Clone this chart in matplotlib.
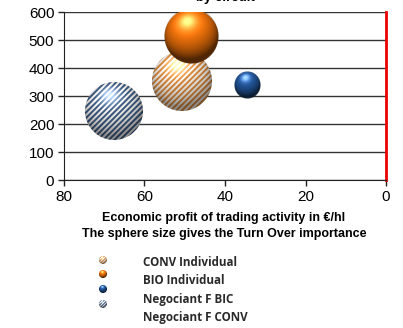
import numpy as np
import matplotlib
matplotlib.use("Agg")
import matplotlib.pyplot as plt

# Series: economic profit (€/hl), a second metric (y), turnover weight (bubble area)
series = ["CONV Individual", "BIO Individual", "Negociant F BIC", "Negociant F CONV"]
profit = [50.8, 48.3, 34.5, 67.5]
y_values = [352, 511, 336, 246]
turnover = [900, 730, 170, 840]
hatched = [True, False, False, True]
base_colors = ["#d9893c", "#e36c0a", "#1f4f8f", "#3f5c84"]

x_ticks = [80, 60, 40, 20, 0]
y_ticks = [0, 100, 200, 300, 400, 500, 600]

W, H = 403, 328
fig = plt.figure(figsize=(W / 100, H / 100), dpi=100)
ax = fig.add_axes([64 / W, 1 - 180 / H, (386 - 64) / W, (180 - 12) / H])


def hex_rgb(c):
    c = c.lstrip("#")
    return np.array([int(c[i:i + 2], 16) / 255 for i in (0, 2, 4)])


def sphere_rgba(R, color, hatch, period=5.6):
    """Shaded sphere image of radius R pixels (optionally striped)."""
    n = int(np.ceil(2 * R)) + 2
    ss = 4
    g = (np.arange(n * ss) + 0.5) / ss - n / 2
    X, Y = np.meshgrid(g, -g)
    u, v = X / R, Y / R
    d = np.sqrt(u ** 2 + v ** 2)
    inside = d <= 1
    z = np.sqrt(np.clip(1 - d ** 2, 0, 1))
    L = np.array([-0.15, 0.55, 0.82])
    L = L / np.linalg.norm(L)
    dot = np.clip(u * L[0] + v * L[1] + z * L[2], 0, 1)
    spec = np.clip(dot, 0, 1) ** 18
    base = hex_rgb(color)
    if hatch:
        s = np.mod(X - Y, period) / period
        stripe = (s < 0.5).astype(float)
        light = np.array([0.97, 0.96, 0.95])
        col = stripe[..., None] * base + (1 - stripe[..., None]) * light
        shade = 0.58 + 0.48 * dot
    else:
        col = np.broadcast_to(base, X.shape + (3,))
        shade = 0.35 + 0.85 * dot
    rgb = np.clip(col * shade[..., None] + 0.55 * spec[..., None], 0, 1)
    alpha = inside.astype(float)
    img = np.dstack([rgb * alpha[..., None], alpha])
    img = img.reshape(n, ss, n, ss, 4).mean(axis=(1, 3))
    a = img[..., 3:4]
    out = img.copy()
    out[..., :3] = np.where(a > 0, img[..., :3] / np.maximum(a, 1e-9), 0)
    return out


ax.set_xlim(80, 0)
ax.set_ylim(0, 600)
ax.set_yticks(y_ticks)
ax.set_xticks(x_ticks)
ax.tick_params(axis="both", labelsize=11, length=4, width=1, color="#222222", pad=3)
for lab in ax.get_xticklabels() + ax.get_yticklabels():
    lab.set_family("Liberation Sans")
ax.yaxis.grid(True, color="#333333", linewidth=1.0)
ax.set_axisbelow(True)
for side in ("left", "bottom", "top"):
    ax.spines[side].set_color("#222222")
ax.spines["top"].set_visible(False)
ax.spines["right"].set_color("#ee0000")
ax.spines["right"].set_linewidth(2)

fig.canvas.draw()
to_px = ax.transData
to_data = ax.transData.inverted()
for xv, yv, t, h, c in zip(profit, y_values, turnover, hatched, base_colors):
    R = np.sqrt(t)
    img = sphere_rgba(R, c, h)
    n = img.shape[0]
    cx, cy = to_px.transform((xv, yv))
    (x0, y0) = to_data.transform((cx - n / 2, cy - n / 2))
    (x1, y1) = to_data.transform((cx + n / 2, cy + n / 2))
    ax.imshow(img, extent=(x0, x1, y0, y1), origin="upper",
              interpolation="bilinear", aspect="auto", zorder=3)
ax.set_xlim(80, 0)
ax.set_ylim(0, 600)

fig.text(0.5 * (64 + 386) / W, 1 - 0.8 / H, "by circuit", ha="center",
         va="baseline", fontsize=9.5, fontweight="bold", family="Liberation Sans")

fig.text(224 / W, 1 - 218 / H, "Economic profit of trading activity in €/hl",
         ha="center", va="center", fontsize=9.0, fontweight="bold",
         family="Liberation Sans")
fig.text(224 / W, 1 - 234 / H, "The sphere size gives the Turn Over importance",
         ha="center", va="center", fontsize=9.0, fontweight="bold",
         family="Liberation Sans")

# Legend: small sphere swatches and labels
marker_rows = [260, 274, 289, 304]
text_rows = [263, 281, 299, 317]
for name, h, c, my, ty in zip(series, hatched, base_colors, marker_rows, text_rows):
    sw = sphere_rgba(4.0, c, h, period=3.0)
    n = sw.shape[0]
    fig.figimage(sw, xo=int(103 - n / 2), yo=int(H - my - n / 2), origin="upper", zorder=5)
    fig.text(143 / W, 1 - ty / H, name, ha="left", va="center", fontsize=8.4,
             fontweight="bold", color="#2a2a2a", family="Open Sans")

fig.savefig("out.png", dpi=100)
